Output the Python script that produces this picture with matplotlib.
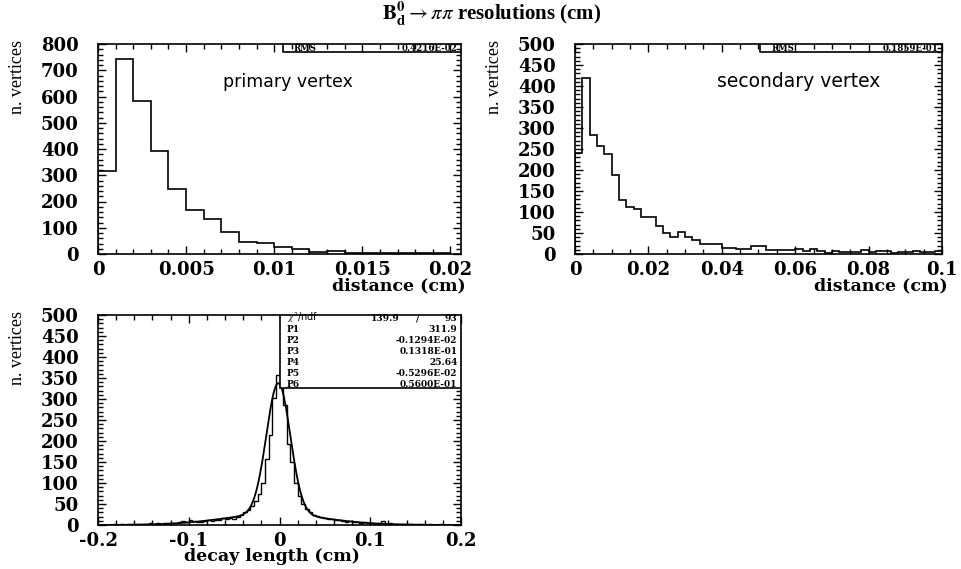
import numpy as np
import matplotlib
matplotlib.use("Agg")
import matplotlib.pyplot as plt
from matplotlib.ticker import MultipleLocator, FuncFormatter

plt.rcParams['mathtext.fontset'] = 'stix'

# ---------------- data ----------------
primary_bin_width = 0.001
primary_counts = [315, 742, 581, 394, 246, 167, 135, 84, 47, 41,
                  28, 18, 9, 12, 2, 3, 3, 4, 3, 4]

secondary_bin_width = 0.002
secondary_counts = [240, 418, 283, 256, 237, 187, 129, 112, 107, 87,
                    87, 66, 50, 40, 52, 40, 33, 25, 25, 25,
                    15, 15, 13, 13, 18, 18, 10, 9, 9, 10,
                    12, 6, 13, 7, 3, 8, 4, 4, 4, 10,
                    5, 6, 6, 2, 5, 5, 8, 4, 4, 7]

decay_lo = -0.2
decay_bin_width = 0.004
decay_counts = [1, 0, 1, 1, 2, 1, 2, 1, 2, 3,
                2, 3, 2, 3, 4, 3, 4, 3, 5, 4,
                5, 4, 6, 10, 6, 11, 10, 7, 8, 10,
                11, 10, 12, 13, 17, 14, 16, 15, 19, 25,
                30, 36, 45, 58, 75, 100, 158, 215, 302, 358,
                369, 286, 192, 150, 100, 70, 50, 38, 30, 25,
                22, 20, 17, 15, 14, 12, 11, 10, 8, 9,
                7, 6, 5, 8, 4, 5, 3, 4, 9, 3,
                4, 3, 2, 3, 2, 2, 3, 1, 2, 2,
                1, 2, 1, 1, 2, 1, 0, 1, 1, 1]

fit_params = [311.9, -0.1294e-02, 0.1318e-01, 25.64, -0.5296e-02, 0.5600e-01]
fit_labels = ["P1", "P2", "P3", "P4", "P5", "P6"]
fit_texts = ["311.9", "-0.1294E-02", "0.1318E-01", "25.64", "-0.5296E-02", "0.5600E-01"]
chi2_text = ("139.9", "93")

rms_primary = "0.4216E-02"
rms_secondary = "0.1859E-01"

# ---------------- style ----------------
SERIF = "Liberation Serif"
BOLD = "DejaVu Serif"
W, H = 962, 569
fig = plt.figure(figsize=(W / 100, H / 100), dpi=100)


def axes_px(left, right, top, bottom):
    return fig.add_axes([left / W, 1 - bottom / H, (right - left) / W, (bottom - top) / H])


def fmt(v, pos):
    return "%g" % round(v, 6)


def style(ax, xmaj, xmin, ymaj, ymin):
    ax.xaxis.set_major_locator(MultipleLocator(xmaj))
    ax.xaxis.set_minor_locator(MultipleLocator(xmin))
    ax.yaxis.set_major_locator(MultipleLocator(ymaj))
    ax.yaxis.set_minor_locator(MultipleLocator(ymin))
    ax.xaxis.set_major_formatter(FuncFormatter(fmt))
    ax.yaxis.set_major_formatter(FuncFormatter(fmt))
    ax.tick_params(which="both", direction="in", top=True, right=True,
                   width=1.0, color="k")
    ax.tick_params(which="major", length=6)
    ax.tick_params(which="minor", length=3.5)
    ax.tick_params(axis="x", which="major", pad=5)
    ax.tick_params(axis="y", which="major", pad=14)
    for lab in ax.get_xticklabels() + ax.get_yticklabels():
        lab.set_fontfamily(BOLD)
        lab.set_fontweight("bold")
        lab.set_fontsize(13)
    for sp in ax.spines.values():
        sp.set_linewidth(1.2)


def ylabel(ax, x):
    ax.text(x, 1.02, "n. vertices", transform=ax.transAxes, rotation=90,
            ha="center", va="top", fontsize=13, family=SERIF)


def rms_box(ax, x0, value):
    ax.plot([x0, x0, 1.0], [1.0, 0.960, 0.960], transform=ax.transAxes,
            color="k", lw=1.2, clip_on=False)
    ax.text(x0 + 0.03, 0.978, "RMS", transform=ax.transAxes, ha="left", va="center",
            fontsize=6.2, family=BOLD, fontweight="bold")
    ax.text(0.99, 0.978, value, transform=ax.transAxes, ha="right", va="center",
            fontsize=6.2, family=BOLD, fontweight="bold")


def xlabel(ax, x, y, text, ha):
    ax.text(x, y, text, transform=ax.transAxes, ha=ha, va="center",
            fontsize=12.5, family=BOLD, fontweight="bold")


# ---------------- panel 1: primary vertex ----------------
ax1 = axes_px(98, 461, 44, 254)
edges1 = np.arange(len(primary_counts) + 1) * primary_bin_width
ax1.stairs(primary_counts, edges1, color="k", lw=1.2, baseline=0)
ax1.set_xlim(0, 0.0206)
ax1.set_ylim(0, 800)
style(ax1, 0.005, 0.001, 100, 20)
ax1.text(0.523, 0.82, "primary vertex", transform=ax1.transAxes, ha="center", va="center",
         fontsize=12.5, family="DejaVu Sans")
rms_box(ax1, 0.51, rms_primary)
ylabel(ax1, -0.223)
xlabel(ax1, 1.014, -0.152, "distance (cm)", "right")

# ---------------- panel 2: secondary vertex ----------------
ax2 = axes_px(575, 942, 44, 254)
edges2 = np.arange(len(secondary_counts) + 1) * secondary_bin_width
ax2.stairs(secondary_counts, edges2, color="k", lw=1.2, baseline=0)
ax2.set_xlim(0, 0.1)
ax2.set_ylim(0, 500)
style(ax2, 0.02, 0.005, 50, 10)
ax2.text(0.609, 0.82, "secondary vertex", transform=ax2.transAxes, ha="center", va="center",
         fontsize=13.5, family="DejaVu Sans")
rms_box(ax2, 0.505, rms_secondary)
ylabel(ax2, -0.219)
xlabel(ax2, 1.014, -0.152, "distance (cm)", "right")

# ---------------- panel 3: decay length ----------------
ax3 = axes_px(98, 461, 315, 525)
edges3 = decay_lo + np.arange(len(decay_counts) + 1) * decay_bin_width
ax3.stairs(decay_counts, edges3, color="k", lw=1.0, baseline=0)
xf = np.linspace(-0.2, 0.2, 801)
p = fit_params
yf = (p[0] * np.exp(-0.5 * ((xf - p[1]) / p[2]) ** 2)
      + p[3] * np.exp(-0.5 * ((xf - p[4]) / p[5]) ** 2))
ax3.plot(xf, yf, color="k", lw=1.3)
ax3.set_xlim(-0.2, 0.2)
ax3.set_ylim(0, 500)
style(ax3, 0.1, 0.02, 50, 10)
ylabel(ax3, -0.223)
xlabel(ax3, 0.48, -0.15, "decay length (cm)", "center")

# fit statistics box
bx0, by0 = 0.5, 0.651
ax3.add_patch(plt.Rectangle((bx0, by0), 1 - bx0, 1 - by0, transform=ax3.transAxes,
                            facecolor="white", edgecolor="k", lw=1.2, zorder=5))
rows_y = [0.982, 0.930, 0.879, 0.827, 0.775, 0.723, 0.671]
ax3.text(0.52, rows_y[0] + 0.004, r"$\chi^2$/ndf", transform=ax3.transAxes, ha="left",
         va="center", fontsize=7, family="DejaVu Sans", zorder=6)
ax3.text(0.83, rows_y[0], chi2_text[0], transform=ax3.transAxes, ha="right", va="center",
         fontsize=6.5, family=BOLD, fontweight="bold", zorder=6)
ax3.text(0.88, rows_y[0], "/", transform=ax3.transAxes, ha="center", va="center",
         fontsize=6.5, family=BOLD, fontweight="bold", zorder=6)
ax3.text(0.99, rows_y[0], chi2_text[1], transform=ax3.transAxes, ha="right", va="center",
         fontsize=6.5, family=BOLD, fontweight="bold", zorder=6)
for lab, val, yy in zip(fit_labels, fit_texts, rows_y[1:]):
    ax3.text(0.52, yy, lab, transform=ax3.transAxes, ha="left", va="center",
             fontsize=6.5, family=BOLD, fontweight="bold", zorder=6)
    ax3.text(0.99, yy, val, transform=ax3.transAxes, ha="right", va="center",
             fontsize=6.5, family=BOLD, fontweight="bold", zorder=6)

# ---------------- title ----------------
fig.text(0.511, 0.975, r"$\mathbf{B_d^0} \rightarrow \pi\pi$ resolutions (cm)",
         ha="center", va="center", fontsize=15, family=SERIF, fontweight="bold")

fig.savefig("out.png", dpi=100)
